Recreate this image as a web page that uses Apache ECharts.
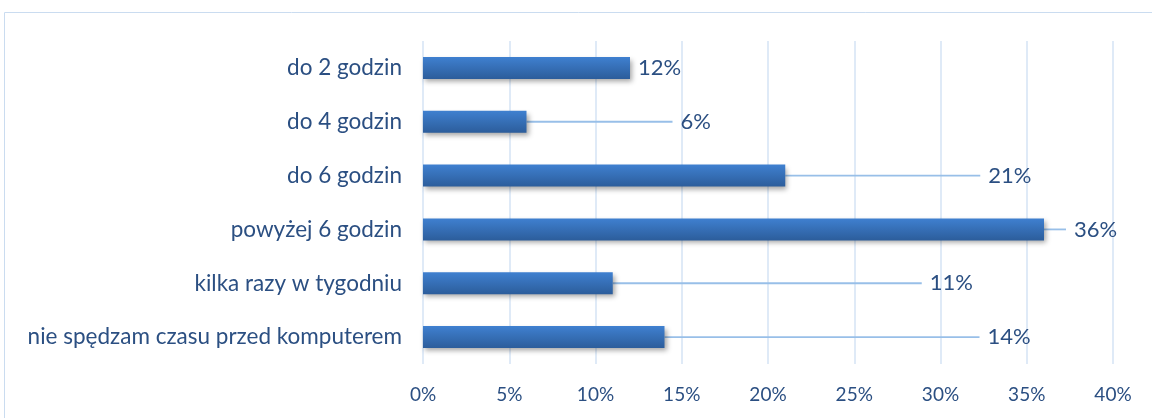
<!DOCTYPE html>
<html>
<head>
<meta charset="utf-8">
<script src="https://cdn.jsdelivr.net/npm/echarts@6/dist/echarts.min.js"></script>
<style>
  html, body { margin: 0; padding: 0; background: #fff; }
  #chart { width: 1152px; height: 418px; }
</style>
</head>
<body>
<div id="chart"></div>
<script>
var categories = [
  'do 2 godzin',
  'do 4 godzin',
  'do 6 godzin',
  'powyżej 6 godzin',
  'kilka razy w tygodniu',
  'nie spędzam czasu przed komputerem'
];
var values = [12, 6, 21, 36, 11, 14];
var xTicks = [0, 5, 10, 15, 20, 25, 30, 35, 40];

// how far each value label is pushed right of its bar (px)
var labelShift = [0, 146, 195, 22, 309, 315];

(function () {
  'use strict';
  var textColor = '#2b4f82';
  var myChart = echarts.init(document.getElementById('chart'));
  var option = {
    animation: false,
    textStyle: { fontFamily: 'Lato' },
    graphic: [{
      type: 'rect',
      shape: { x: 4.5, y: 12.5, width: 1160, height: 420 },
      style: { fill: 'none', stroke: '#cadcf0', lineWidth: 1 }
    }],
    grid: { left: 423, right: 39, top: 41, bottom: 54 },
    xAxis: {
      type: 'value',
      min: xTicks[0],
      max: xTicks[xTicks.length - 1],
      interval: 5,
      axisLine: { show: false },
      axisTick: { show: false },
      splitLine: { lineStyle: { color: '#d5e3f4', width: 1.5 } },
      axisLabel: {
        color: textColor,
        fontSize: 19,
        margin: 21,
        formatter: '{value}%'
      }
    },
    yAxis: {
      type: 'category',
      data: categories,
      inverse: true,
      axisLine: { show: false },
      axisTick: { show: false },
      axisLabel: { color: textColor, fontSize: 22.5, margin: 21 }
    },
    series: [{
      type: 'bar',
      data: values,
      barWidth: 22,
      itemStyle: {
        color: new echarts.graphic.LinearGradient(0, 0, 0, 1, [
          { offset: 0, color: '#3f80d0' },
          { offset: 1, color: '#2c5d9b' }
        ]),
        shadowColor: 'rgba(0,0,0,0.35)',
        shadowBlur: 5,
        shadowOffsetX: 2,
        shadowOffsetY: 3
      },
      label: {
        show: true,
        position: 'right',
        distance: 0,
        color: textColor,
        fontSize: 22,
        formatter: '{g|}{c}%',
        rich: { g: { width: 8 } }
      },
      labelLine: {
        show: true,
        lineStyle: { color: '#98bfe8', width: 1.8 }
      },
      labelLayout: function (params) {
        return { dx: labelShift[params.dataIndex] };
      }
    }]
  };
  myChart.setOption(option);
  window.addEventListener('resize', function () {
    myChart.resize();
  });
})();
</script>
</body>
</html>
